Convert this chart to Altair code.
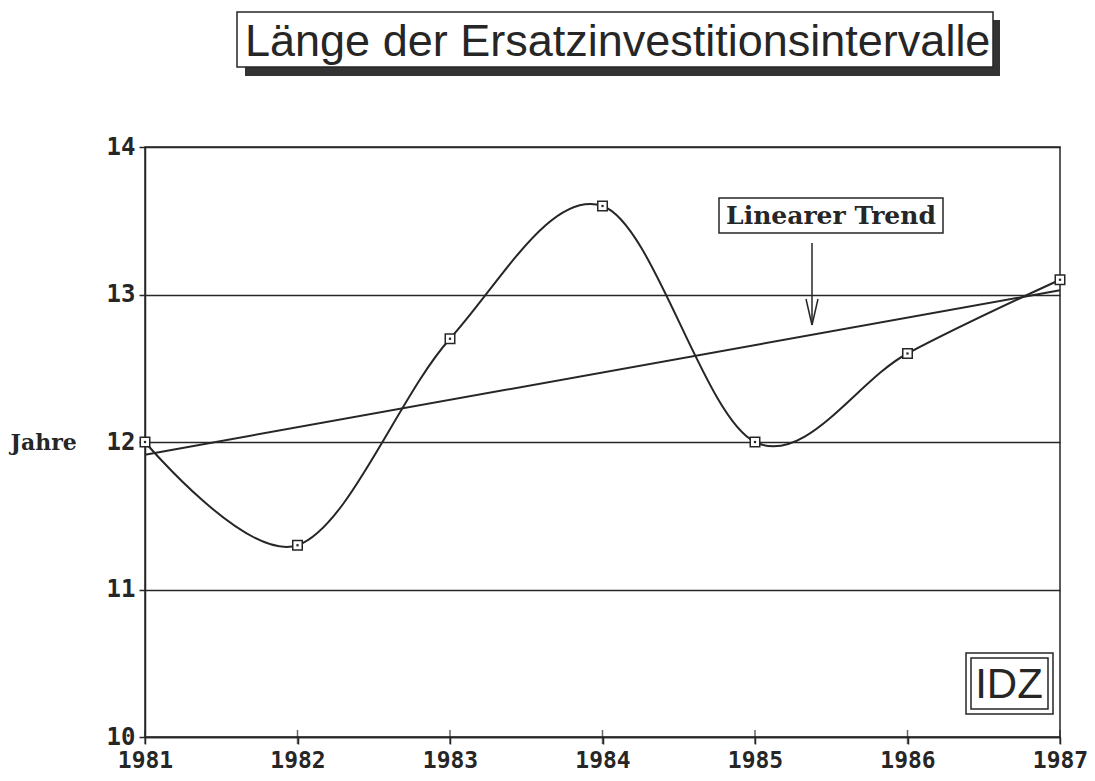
import altair as alt
import pandas as pd

# ---- data ----
years = [1981, 1982, 1983, 1984, 1985, 1986, 1987]
values = [12.0, 11.3, 12.7, 13.6, 12.0, 12.6, 13.1]
y_ticks = [10, 11, 12, 13, 14]

title_text = "Länge der Ersatzinvestitionsintervalle"
trend_label = "Linearer Trend"
y_label = "Jahre"
logo_text = "IDZ"

INK = "#262626"
df = pd.DataFrame({"year": years, "value": values})
one = pd.DataFrame({"k": [0]})

x_enc = alt.X(
    "year:Q",
    scale=alt.Scale(domain=[years[0], years[-1]], nice=False, zero=False),
    axis=alt.Axis(
        values=years, format="d", title=None, grid=False,
        labelFont="DejaVu Sans Mono", labelFontWeight="bold", labelFontSize=23,
        labelColor=INK, labelPadding=5, tickSize=7, tickWidth=1.5, tickColor=INK,
        domainColor=INK, domainWidth=1.5, labelFlush=False,
    ),
)
y_enc = alt.Y(
    "value:Q",
    scale=alt.Scale(domain=[y_ticks[0], y_ticks[-1]], nice=False, zero=False),
    axis=alt.Axis(
        values=y_ticks, format="d", title=y_label, titleAngle=0,
        titleFont="DejaVu Serif", titleFontWeight="bold", titleFontSize=22,
        titleColor=INK, titleAlign="left", titleBaseline="middle",
        titleX=-135, titleY=295,
        labelFont="DejaVu Sans Mono", labelFontWeight="bold", labelFontSize=24,
        labelColor=INK, labelPadding=4, tickSize=6, tickWidth=1.5, tickColor=INK,
        domainColor=INK, domainWidth=1.5,
        grid=True, gridColor=INK, gridWidth=1.5, gridOpacity=1,
    ),
)

base = alt.Chart(df)

curve = base.mark_line(interpolate="cardinal", color=INK, strokeWidth=2).encode(
    x=x_enc, y=y_enc
)
trend = base.transform_regression(
    "year", "value", extent=[years[0], years[-1]]
).mark_line(color=INK, strokeWidth=2).encode(x="year:Q", y="value:Q")

markers_bg = base.mark_point(shape="square", size=90, filled=True, color="white", opacity=1).encode(
    x="year:Q", y="value:Q"
)
markers = base.mark_point(shape="square", size=90, filled=False, color=INK, strokeWidth=1.5, opacity=1).encode(
    x="year:Q", y="value:Q"
)
dots = base.mark_point(shape="square", size=5, filled=True, color=INK, opacity=1).encode(
    x="year:Q", y="value:Q"
)
xticks_up = base.mark_tick(orient="vertical", size=14, thickness=1.5, color=INK).encode(
    x="year:Q", y=alt.datum(y_ticks[0])
)

dec = alt.Chart(one)
# title box with shadow
title_shadow = dec.mark_rect(color="#333333").encode(
    x=alt.value(100), x2=alt.value(855), y=alt.value(-127), y2=alt.value(-71)
)
title_box = dec.mark_rect(fill="white", stroke=INK, strokeWidth=1.5).encode(
    x=alt.value(92), x2=alt.value(848), y=alt.value(-135), y2=alt.value(-80)
)
title = dec.mark_text(
    text=title_text, font="Liberation Sans", fontSize=45, color=INK,
    align="left", baseline="alphabetic",
).encode(x=alt.value(100), y=alt.value(-91))

# trend label with arrow
lab_box = dec.mark_rect(fill="white", stroke=INK, strokeWidth=1.5).encode(
    x=alt.value(574), x2=alt.value(798), y=alt.value(51), y2=alt.value(86)
)
lab_text = dec.mark_text(
    text=trend_label, font="DejaVu Serif", fontWeight="bold", fontSize=25,
    color=INK, align="center", baseline="middle",
).encode(x=alt.value(686), y=alt.value(69))
arrow_shaft = dec.mark_rule(color=INK, strokeWidth=1.5).encode(
    x=alt.value(667), y=alt.value(96), y2=alt.value(176)
)
arrow_l = dec.mark_rule(color=INK, strokeWidth=1.5).encode(
    x=alt.value(661), y=alt.value(152), x2=alt.value(667), y2=alt.value(178)
)
arrow_r = dec.mark_rule(color=INK, strokeWidth=1.5).encode(
    x=alt.value(673), y=alt.value(152), x2=alt.value(667), y2=alt.value(178)
)

# IDZ logo
logo_outer = dec.mark_rect(fill="white", stroke=INK, strokeWidth=1.5).encode(
    x=alt.value(821), x2=alt.value(908), y=alt.value(506), y2=alt.value(567)
)
logo_inner = dec.mark_rect(fill="white", stroke=INK, strokeWidth=1.5).encode(
    x=alt.value(826), x2=alt.value(903), y=alt.value(511), y2=alt.value(562)
)
logo = dec.mark_text(
    text=logo_text, font="Liberation Sans", fontSize=42, color=INK,
    align="center", baseline="middle",
).encode(x=alt.value(864), y=alt.value(538))

chart = alt.layer(
    curve, trend, xticks_up, markers_bg, markers, dots,
    title_shadow, title_box, title,
    lab_box, lab_text, arrow_shaft, arrow_l, arrow_r,
    logo_outer, logo_inner, logo,
).properties(
    width=915, height=590,
    autosize=alt.AutoSizeParams(type="none"),
    padding={"left": 137, "top": 139, "right": 27, "bottom": 36},
    background="white",
).configure_view(stroke=INK, strokeWidth=1.5)

chart.save("out.html", embed_options={"renderer": "svg", "actions": False})
